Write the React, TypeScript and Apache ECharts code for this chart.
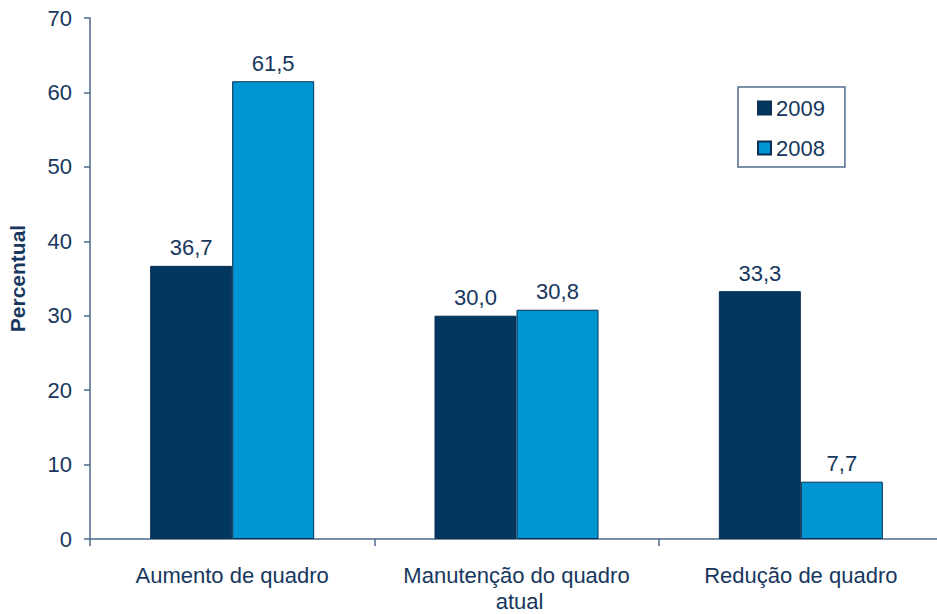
import React, { useEffect, useRef } from "react";
import * as echarts from "echarts";

const categories = ["Aumento de quadro", "Manutenção do quadro atual", "Redução de quadro"];
const series2009 = [36.7, 30.0, 33.3];
const series2008 = [61.5, 30.8, 7.7];
const seriesNames = ["2009", "2008"];
const yTicks = { min: 0, max: 70, interval: 10 };

const TEXT = "#17375E";
const AXIS = "#4A6889";
const FONT = "Liberation Sans, Arial, sans-serif";

export default function App() {
  const ref = useRef<HTMLDivElement>(null);
  useEffect(() => {
    document.body.style.margin = "0";
    const chart = echarts.init(ref.current!, null, { renderer: "svg" });
    const fmt = (p: any) => Number(p.value).toFixed(1).replace(".", ",");
    const label = {
      show: true,
      position: "top",
      distance: 7,
      color: TEXT,
      fontSize: 22,
      fontFamily: FONT,
      formatter: fmt,
    };
    chart.setOption({
      animation: false,
      textStyle: { fontFamily: FONT },
      grid: {
        left: 90,
        top: 18,
        bottom: 75,
        width: 853,
        containLabel: false,
        outerBoundsMode: "none",
      },
      legend: {
        orient: "vertical",
        left: 738,
        top: 87,
        padding: [10, 20, 8, 19],
        itemGap: 18,
        itemWidth: 13,
        itemHeight: 13,
        borderColor: "#4F6D8C",
        borderWidth: 1.5,
        textStyle: { color: TEXT, fontSize: 22, fontFamily: FONT },
        data: seriesNames.map((n) => ({ name: n, icon: "rect" })),
      },
      xAxis: {
        type: "category",
        data: categories,
        axisLine: { lineStyle: { color: AXIS, width: 1.5 } },
        axisTick: { show: true, length: 7, lineStyle: { color: AXIS, width: 1.5 } },
        axisLabel: {
          color: TEXT,
          fontSize: 22,
          fontFamily: FONT,
          margin: 23,
          lineHeight: 26,
          width: 250,
          overflow: "break",
          interval: 0,
        },
      },
      yAxis: {
        type: "value",
        min: yTicks.min,
        max: yTicks.max,
        interval: yTicks.interval,
        name: "Percentual",
        nameLocation: "middle",
        nameGap: 62,
        nameRotate: 90,
        nameTextStyle: { color: TEXT, fontSize: 21, fontWeight: "bold", fontFamily: FONT },
        splitLine: { show: false },
        axisLine: { show: true, lineStyle: { color: AXIS, width: 1.5 } },
        axisTick: { show: true, length: 6, lineStyle: { color: AXIS, width: 1.5 } },
        axisLabel: { color: TEXT, fontSize: 22, fontFamily: FONT, margin: 18 },
      },
      series: [
        {
          name: seriesNames[0],
          type: "bar",
          data: series2009,
          barWidth: 82,
          barGap: "0%",
          itemStyle: { color: "#02375F", borderColor: "#0B2F52", borderWidth: 1 },
          label,
        },
        {
          name: seriesNames[1],
          type: "bar",
          data: series2008,
          barWidth: 82,
          barGap: "0%",
          itemStyle: { color: "#0096D3", borderColor: "#0B2F52", borderWidth: 1 },
          label,
        },
      ],
    });
    return () => chart.dispose();
  }, []);
  return <div ref={ref} style={{ width: 937, height: 614 }} />;
}
